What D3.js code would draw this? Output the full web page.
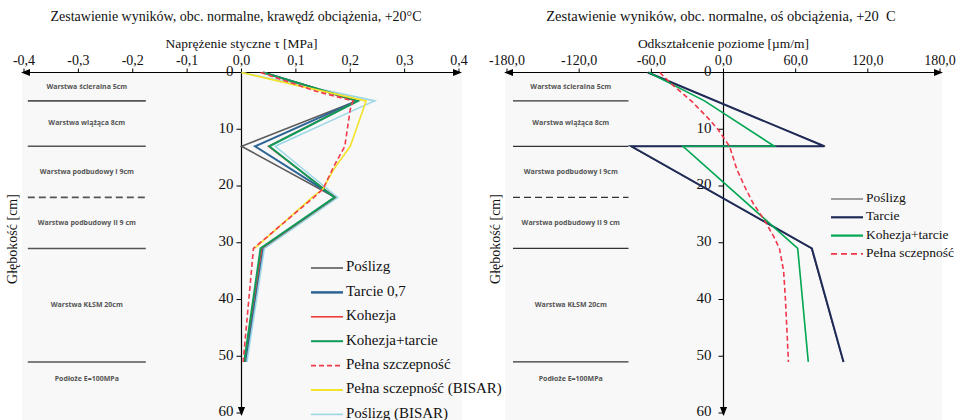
<!DOCTYPE html>
<html>
<head>
<meta charset="utf-8">
<title>Zestawienie wyników</title>
<style>
  body { margin: 0; background: #fff; }
  svg text { font-family: "Liberation Serif", Tinos, "Times New Roman", "Noto Serif", "DejaVu Serif", serif; fill: #111; white-space: pre; }
  svg text.layer { font-family: "Open Sans", "DejaVu Sans", sans-serif; font-weight: bold; fill: #555; font-size: 7px; }
</style>
<script src="https://d3js.org/d3.v7.min.js"></script>
</head>
<body>
<svg width="958" height="420"></svg>
<script>
// ---- data ----
var depthTicks = [0, 10, 20, 30, 40, 50, 60];
var leftTicks = [-0.4, -0.3, -0.2, -0.1, 0.0, 0.1, 0.2, 0.3, 0.4];
var rightTicks = [-180, -120, -60, 0, 60, 120, 180];

var layerNames = ["Warstwa ścieralna 5cm", "Warstwa wiążąca 8cm", "Warstwa podbudowy I 9cm",
                  "Warstwa podbudowy II 9 cm", "Warstwa KŁSM 20cm", "Podłoże E=100MPa"];
var layerBounds = [0, 5, 13, 22, 31, 51, 57];   // depth [cm]
var dashedBound = 22;

// left chart: shear stress tau [MPa] vs depth [cm]
var leftNames = ["Poślizg", "Tarcie 0,7", "Kohezja", "Kohezja+tarcie",
                 "Pełna szczepność", "Pełna sczepność (BISAR)", "Poślizg (BISAR)"];
var slipDepth    = [0, 5, 13, 22, 31, 51];
var slipTau      = [0.040, 0.212, 0.000, 0.172, 0.040, 0.007];
var frictionTau  = [0.040, 0.212, 0.025, 0.173, 0.040, 0.008];
var cohesionTau  = [0.040, 0.213, 0.050, 0.172, 0.037, 0.005];
var cohFricTau   = [0.040, 0.214, 0.051, 0.171, 0.035, 0.005];
var fullDepth    = [0, 3.3, 5, 6.5, 13, 16.5, 20.5, 22, 31, 51];
var fullTau      = [0.035, 0.137, 0.205, 0.200, 0.190, 0.170, 0.150, 0.133, 0.022, 0.003];
var bisarFullDepth = [0, 2, 5, 7, 13, 17, 20.5, 22, 31];
var bisarFullTau   = [0.000, 0.090, 0.229, 0.222, 0.200, 0.170, 0.150, 0.130, 0.024];
var bisarSlipDepth = [0, 5, 6.5, 13, 22, 31, 51];
var bisarSlipTau   = [0.000, 0.245, 0.210, 0.062, 0.177, 0.042, 0.010];

// right chart: horizontal strain [um/m] vs depth [cm]
var rightNames = ["Poślizg", "Tarcie", "Kohezja+tarcie", "Pełna sczepność"];
var strainDepth   = [0, 13, 13, 31, 51];
var slipStrain    = [-63.5, 84.5, -77.5, 73.0, 99.5];
var frictionStrain= [-62.8, 83.8, -76.6, 73.5, 99.8];
var cohFricDepth  = [0, 5, 13, 13, 31, 51];
var cohFricStrain = [-62.0, -15.8, 42.3, -33.7, 61.7, 70.5];
var fullStrainDepth = [0, 2, 5, 8, 10, 13, 17, 20, 23, 26, 29, 31, 35, 40, 51];
var fullStrain      = [-53, -43.4, -26.8, -13, -4.7, 5, 11, 17.4, 24.5, 34, 42, 46.5, 50, 51.5, 54];

function zip(vals, depths) { return vals.map(function(v, i) { return {v: v, d: depths[i]}; }); }

var leftSeries = [
  {name: leftNames[0], data: zip(slipTau, slipDepth),        color: "#5a5a5a", w: 1.6},
  {name: leftNames[1], data: zip(frictionTau, slipDepth),    color: "#2d6496", w: 2},
  {name: leftNames[6], data: zip(bisarSlipTau, bisarSlipDepth), color: "#9dd7e6", w: 1.6},
  {name: leftNames[2], data: zip(cohesionTau, slipDepth),    color: "#f23a3a", w: 1.6},
  {name: leftNames[3], data: zip(cohFricTau, slipDepth),     color: "#0e9a5a", w: 2},
  {name: leftNames[5], data: zip(bisarFullTau, bisarFullDepth), color: "#f2e22a", w: 1.6},
  {name: leftNames[4], data: zip(fullTau, fullDepth),        color: "#f23a4a", w: 1.6, dash: "5,3"}
];
var leftLegend = [
  {name: leftNames[0], color: "#5a5a5a", w: 1.6},
  {name: leftNames[1], color: "#2d6496", w: 2.5},
  {name: leftNames[2], color: "#f23a3a", w: 1.6},
  {name: leftNames[3], color: "#0e9a5a", w: 2},
  {name: leftNames[4], color: "#f23a4a", w: 1.6, dash: "5,3"},
  {name: leftNames[5], color: "#f2e22a", w: 2},
  {name: leftNames[6], color: "#9dd7e6", w: 1.6}
];

var rightSeries = [
  {name: rightNames[0], data: zip(slipStrain, strainDepth),     color: "#444", w: 1},
  {name: rightNames[1], data: zip(frictionStrain, strainDepth), color: "#1f2b57", w: 2},
  {name: rightNames[2], data: zip(cohFricStrain, cohFricDepth), color: "#00a651", w: 1.6},
  {name: rightNames[3], data: zip(fullStrain, fullStrainDepth), color: "#f2364a", w: 1.6, dash: "5,3"}
];
var rightLegend = [
  {name: rightNames[0], color: "#444", w: 1},
  {name: rightNames[1], color: "#1f2b57", w: 2.2},
  {name: rightNames[2], color: "#00a651", w: 2.2},
  {name: rightNames[3], color: "#f2364a", w: 1.6, dash: "6,4"}
];

var svg = d3.select("svg");

var defs = svg.append("defs");
defs.append("marker").attr("id", "arr")
    .attr("viewBox", "0 0 10 10").attr("refX", 9).attr("refY", 5)
    .attr("markerWidth", 9).attr("markerHeight", 9).attr("orient", "auto-start-reverse")
    .attr("markerUnits", "userSpaceOnUse")
  .append("path").attr("d", "M0,1 L10,5 L0,9 Z").attr("fill", "#000");

var y = d3.scaleLinear().domain([0, 60]).range([72.5, 413]);

function fmt(v) { return v.toFixed(1).replace(".", ","); }

function panel(o) {
  var x = o.x;
  var g = svg.append("g");

  g.append("rect")
    .attr("x", o.bg[0]).attr("y", 72).attr("width", o.bg[1] - o.bg[0]).attr("height", 348)
    .attr("fill", "#f8f8f8");

  // title + axis title
  g.append("text").attr("x", o.cx).attr("y", 21).attr("text-anchor", "middle")
    .attr("xml:space", "preserve")
    .style("font-size", o.titleSize).text(o.title);
  g.append("text").attr("x", x(0)).attr("y", 48).attr("text-anchor", "middle")
    .style("font-size", "13.5px").text(o.axisTitle);

  // layer boundaries and names
  layerBounds.slice(1, -1).forEach(function(b) {
    g.append("line")
      .attr("x1", x(o.layerX[0])).attr("x2", x(o.layerX[1]))
      .attr("y1", y(b)).attr("y2", y(b))
      .attr("stroke", o.layerColor).attr("stroke-width", o.layerW)
      .attr("stroke-dasharray", b === dashedBound ? "7,4" : null);
  });
  layerNames.forEach(function(n, i) {
    g.append("text").attr("class", "layer")
      .attr("x", x((o.layerX[0] + o.layerX[1]) / 2))
      .attr("y", y((layerBounds[i] + layerBounds[i + 1]) / 2))
      .attr("text-anchor", "middle").attr("dominant-baseline", "middle")
      .text(n);
  });

  // x axis with arrows on both ends
  var xd = x.domain();
  g.append("line")
    .attr("x1", x(xd[0]) - 2).attr("x2", x(xd[1]) + 2)
    .attr("y1", y(0)).attr("y2", y(0))
    .attr("stroke", "#000").attr("stroke-width", 1.2)
    .attr("marker-start", "url(#arr)").attr("marker-end", "url(#arr)");
  o.ticks.forEach(function(t) {
    g.append("line").attr("x1", x(t)).attr("x2", x(t))
      .attr("y1", y(0) - 4).attr("y2", y(0)).attr("stroke", "#000");
    g.append("text").attr("x", x(t)).attr("y", 64.5).attr("text-anchor", "middle")
      .style("font-size", o.tickSize).text(fmt(t));
  });

  // y axis (depth) with arrow down
  g.append("line")
    .attr("x1", x(0)).attr("x2", x(0)).attr("y1", y(0)).attr("y2", y(60) + 2)
    .attr("stroke", "#000").attr("stroke-width", 1.2)
    .attr("marker-end", "url(#arr)");
  depthTicks.forEach(function(t) {
    g.append("line").attr("x1", x(0) - 5).attr("x2", x(0))
      .attr("y1", y(t)).attr("y2", y(t)).attr("stroke", "#000");
    g.append("text").attr("x", x(0) - o.yLabGap).attr("y", y(t))
      .attr("text-anchor", "end").attr("dominant-baseline", "middle")
      .style("font-size", "15px").text(t);
  });

  g.append("text")
    .attr("transform", "translate(" + o.yTitleX + ",239) rotate(-90)")
    .attr("text-anchor", "middle").attr("dominant-baseline", "middle")
    .style("font-size", "14px").text("Głębokość [cm]");

  // series
  var line = d3.line().x(function(d) { return x(d.v); }).y(function(d) { return y(d.d); });
  o.series.forEach(function(s) {
    g.append("path").datum(s.data).attr("d", line)
      .attr("fill", "none").attr("stroke", s.color).attr("stroke-width", s.w)
      .attr("stroke-linejoin", "miter")
      .attr("stroke-dasharray", s.dash || null);
  });

  // legend
  o.legend.forEach(function(s, i) {
    var ly = o.legY + i * o.legStep;
    g.append("line").attr("x1", o.legX).attr("x2", o.legX + 32)
      .attr("y1", ly).attr("y2", ly)
      .attr("stroke", s.color).attr("stroke-width", s.w)
      .attr("stroke-dasharray", s.dash || null);
    g.append("text").attr("x", o.legX + 35).attr("y", ly)
      .attr("dominant-baseline", "middle")
      .style("font-size", o.legSize).text(s.name);
  });
}

panel({
  x: d3.scaleLinear().domain([-0.4, 0.4]).range([24, 459]),
  bg: [22, 462], cx: 236, titleSize: "14px",
  title: "Zestawienie wyników, obc. normalne, krawędź obciążenia, +20°C",
  axisTitle: "Naprężenie styczne τ [MPa]",
  ticks: leftTicks, tickSize: "14px",
  layerX: [-0.393, -0.176], layerColor: "#555", layerW: 1.6,
  yLabGap: 8, yTitleX: 14,
  series: leftSeries, legend: leftLegend,
  legX: 311, legY: 268, legStep: 24.4, legSize: "15px"
});

panel({
  x: d3.scaleLinear().domain([-180, 180]).range([507, 940]),
  bg: [505, 942], cx: 721, titleSize: "14.5px",
  title: "Zestawienie wyników, obc. normalne, oś obciążenia, +20  C",
  axisTitle: "Odkształcenie poziome [µm/m]",
  ticks: rightTicks, tickSize: "14px",
  layerX: [-175, -79], layerColor: "#333", layerW: 1.2,
  yLabGap: 12, yTitleX: 497,
  series: rightSeries, legend: rightLegend,
  legX: 831, legY: 199, legStep: 18.3, legSize: "13.5px"
});
</script>
</body>
</html>
